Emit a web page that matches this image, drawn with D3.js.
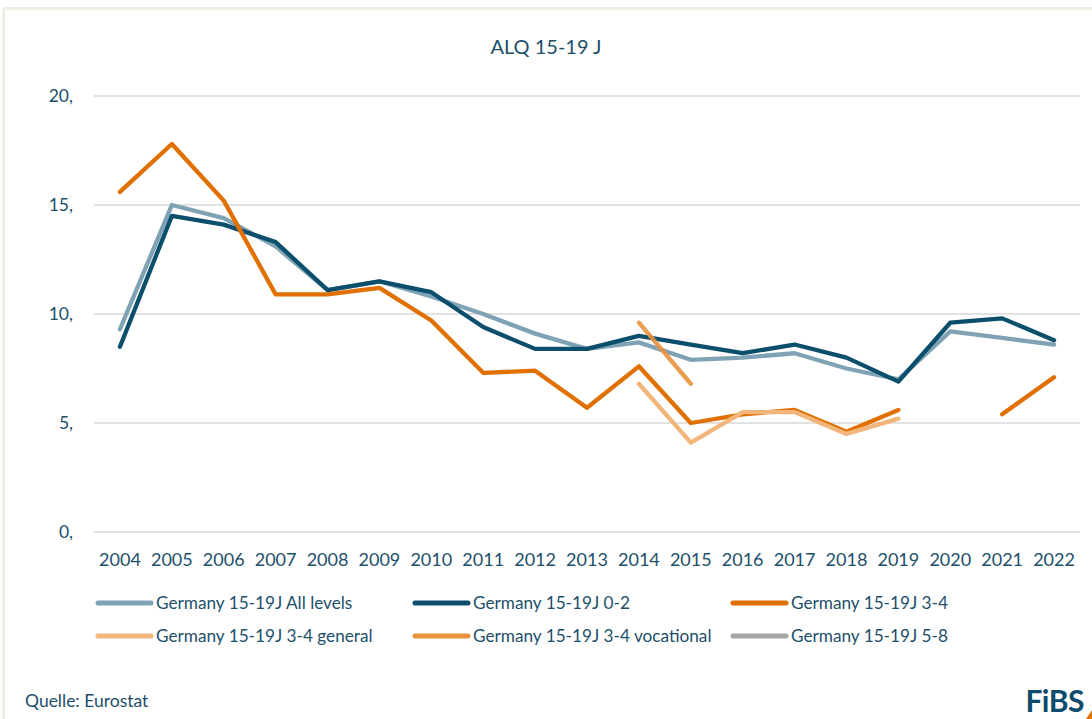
<!DOCTYPE html>
<html>
<head>
<meta charset="utf-8">
<script src="https://cdn.jsdelivr.net/npm/d3@7"></script>
<style>
  body { margin: 0; background: #fff; }
  svg { display: block; font-family: Lato, "Noto Sans", sans-serif; }
</style>
</head>
<body>
<div id="chart"></div>
<script>
// years on the x axis
let years = d3.range(2004, 2023).map(String);

// values, null = no data
let allLevels  = [9.3, 15.0, 14.4, 13.1, 11.1, 11.5, 10.8, 10.0, 9.1, 8.4, 8.7, 7.9, 8.0, 8.2, 7.5, 7.0, 9.2, 8.9, 8.6];
let isced02    = [8.5, 14.5, 14.1, 13.3, 11.1, 11.5, 11.0, 9.4, 8.4, 8.4, 9.0, 8.6, 8.2, 8.6, 8.0, 6.9, 9.6, 9.8, 8.8];
let isced34    = [15.6, 17.8, 15.2, 10.9, 10.9, 11.2, 9.7, 7.3, 7.4, 5.7, 7.6, 5.0, 5.4, 5.6, 4.6, 5.6, null, 5.4, 7.1];
let isced34gen = [null, null, null, null, null, null, null, null, null, null, 6.8, 4.1, 5.5, 5.5, 4.5, 5.2, null, null, null];
let isced34voc = [null, null, null, null, null, null, null, null, null, null, 9.6, 6.8, null, null, null, null, null, null, null];
let isced58    = years.map(() => null);

let yTicks = [0, 5, 10, 15, 20];

let series = [
  {name: "Germany 15-19J All levels",      values: allLevels,  color: "#7fa3b4"},
  {name: "Germany 15-19J 0-2",             values: isced02,    color: "#0b4f6c"},
  {name: "Germany 15-19J 3-4",             values: isced34,    color: "#e07000"},
  {name: "Germany 15-19J 3-4 general",     values: isced34gen, color: "#f2b57c"},
  {name: "Germany 15-19J 3-4 vocational",  values: isced34voc, color: "#e8923e"},
  {name: "Germany 15-19J 5-8",             values: isced58,    color: "#a5a5a5"}
];

const W = 1092, H = 719;
const textColor = "#1d4f6b";

const svg = d3.select("#chart").append("svg").attr("width", W).attr("height", H);

// beige frame on top and left
svg.append("rect").attr("x", 3.5).attr("y", 8.5).attr("width", W).attr("height", H)
  .attr("fill", "none").attr("stroke", "#efece1").attr("stroke-width", 3);

svg.append("text").attr("x", 546).attr("y", 54).attr("text-anchor", "middle")
  .attr("fill", textColor).attr("font-size", 20).text("ALQ 15-19 J");

let x = d3.scaleBand().domain(years).range([94, 1080]);
let y = d3.scaleLinear().domain([0, 20]).range([532, 96]);

// gridlines
svg.append("g").selectAll("line").data(yTicks).join("line")
  .attr("x1", 94).attr("x2", 1080)
  .attr("y1", d => y(d)).attr("y2", d => y(d))
  .attr("stroke", "#d9d9d9").attr("stroke-width", 1.5);

// y labels
svg.append("g").selectAll("text").data(yTicks).join("text")
  .attr("x", 73).attr("y", d => y(d) + 6).attr("text-anchor", "end")
  .attr("fill", textColor).attr("font-size", 17.5).text(d => d + ",");

// x labels
svg.append("g").selectAll("text").data(years).join("text")
  .attr("x", d => x(d) + x.bandwidth() / 2).attr("y", 566).attr("text-anchor", "middle")
  .attr("fill", textColor).attr("font-size", 18).text(d => d);

let line = d3.line()
  .defined(d => d.v != null)
  .x(d => x(d.year) + x.bandwidth() / 2)
  .y(d => y(d.v));

svg.append("g").selectAll("path").data(series).join("path")
  .attr("d", s => line(s.values.map((v, i) => ({year: years[i], v: v}))))
  .attr("fill", "none").attr("stroke", s => s.color)
  .attr("stroke-width", 4.3).attr("stroke-linecap", "round").attr("stroke-linejoin", "round")
  .attr("stroke-opacity", (s, i) => i == 4 ? 0.9 : 1);

// legend, 3 columns x 2 rows
let legX = [98, 415, 733], legY = [603, 636];
let leg = svg.append("g").selectAll("g").data(series).join("g")
  .attr("transform", (s, i) => `translate(${legX[i % 3]},${legY[Math.floor(i / 3)]})`);
leg.append("line").attr("x1", 0).attr("x2", 53)
  .attr("stroke", s => s.color).attr("stroke-width", 5).attr("stroke-linecap", "round");
leg.append("text").attr("x", 58).attr("y", 6).attr("fill", textColor)
  .attr("font-size", 17.2).text(s => s.name);

svg.append("text").attr("x", 25).attr("y", 707).attr("fill", textColor)
  .attr("font-size", 17.5).text("Quelle: Eurostat");

// logo
svg.append("text").attr("x", 1084).attr("y", 712).attr("text-anchor", "end")
  .attr("fill", "#0d4a6b").attr("font-size", 30).attr("font-weight", "bold")
  .attr("letter-spacing", -0.5).text("FiBS");
svg.append("path").attr("d", "M1086,719 L1092,710 L1092,719 Z").attr("fill", "#e07000");
</script>
</body>
</html>
